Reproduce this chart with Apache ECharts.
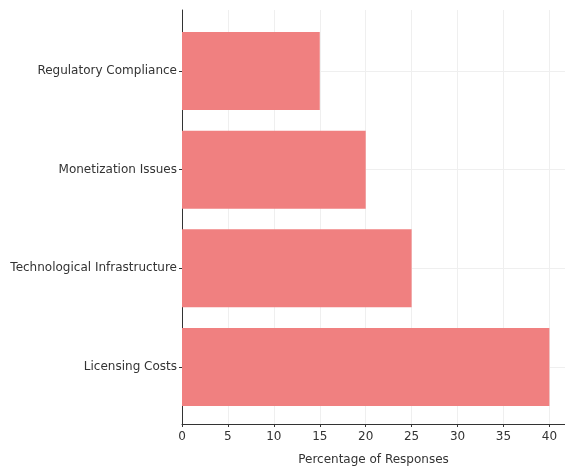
<!DOCTYPE html>
<html>
<head>
<meta charset="utf-8">
<script src="https://cdn.jsdelivr.net/npm/echarts@6/dist/echarts.min.js"></script>
<style>
	html, body { margin: 0; padding: 0; background: #fff; }
	#chart { width: 565px; height: 471px; }
</style>
</head>
<body>
<div id="chart"></div>
<script>
"use strict";

var categories = ["Licensing Costs", "Technological Infrastructure", "Monetization Issues", "Regulatory Compliance"];
var responses = [40, 25, 20, 15];
var xTicks = [0, 5, 10, 15, 20, 25, 30, 35, 40];

var font = "DejaVu Sans";
var chart = echarts.init(document.getElementById("chart"));

var option = {
	animation : false,
	backgroundColor : "#fff",
	grid : [
		// outer frame: axis lines, x labels, vertical grid
		{ left : 182, right : 0, top : 10, bottom : 47 },
		// inner: categories placed at their centres
		{ left : 182, right : 0, top : 71, bottom : 104 }
	],
	xAxis : [
		{
			gridIndex : 0,
			type : "value",
			min : 0,
			max : 41.7,
			name : "Percentage of Responses",
			nameLocation : "middle",
			nameGap : 30,
			nameTextStyle : { fontFamily : font, fontSize : 12, color : "#333" },
			axisLine : { show : true, lineStyle : { color : "#333", width : 1 } },
			axisTick : { show : true, length : 3, customValues : xTicks, lineStyle : { color : "#333" } },
			axisLabel : { fontFamily : font, fontSize : 12, color : "#333", margin : 7, customValues : xTicks },
			splitLine : { show : true, lineStyle : { color : "#efefef", width : 1 } }
		},
		{
			gridIndex : 1,
			type : "value",
			min : 0,
			max : 41.7,
			show : false
		}
	],
	yAxis : [
		{
			gridIndex : 0,
			type : "value",
			min : 0,
			max : 1,
			axisLine : { show : true, lineStyle : { color : "#333", width : 1 } },
			axisTick : { show : false },
			axisLabel : { show : false },
			splitLine : { show : false }
		},
		{
			gridIndex : 1,
			type : "category",
			data : categories,
			boundaryGap : false,
			axisLine : { show : false },
			axisTick : { show : true, length : 3, lineStyle : { color : "#333" } },
			axisLabel : { fontFamily : font, fontSize : 12, color : "#333", margin : 5 },
			splitLine : { show : true, lineStyle : { color : "#efefef", width : 1 } }
		}
	],
	series : [
		{
			type : "bar",
			xAxisIndex : 1,
			yAxisIndex : 1,
			data : responses,
			barWidth : 78,
			itemStyle : { color : "#f08080" }
		}
	]
};

chart.setOption(option);
</script>
</body>
</html>
